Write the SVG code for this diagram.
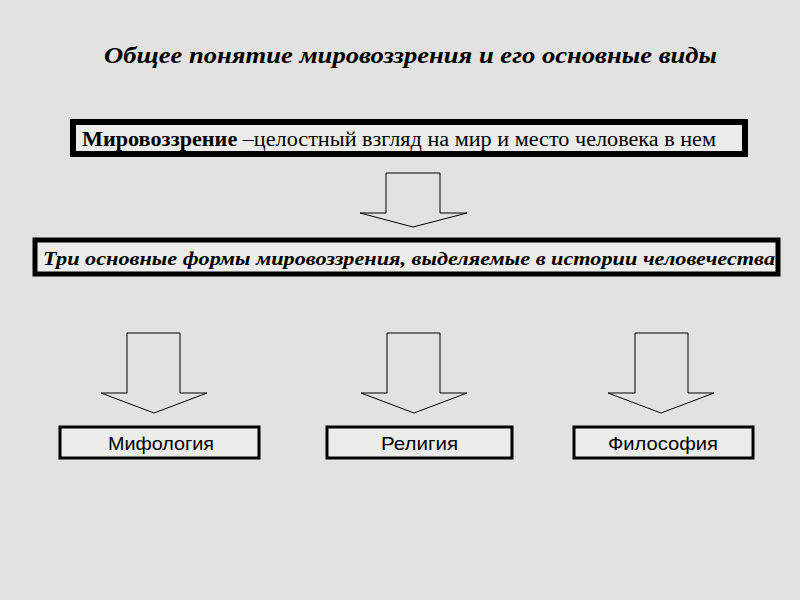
<svg xmlns="http://www.w3.org/2000/svg" width="800" height="600" viewBox="0 0 800 600">
<style>
.arrow{fill:none;stroke:#000;stroke-width:1}
.t{font-family:"Liberation Serif",serif;fill:#000}
.s{font-family:"Liberation Sans",sans-serif;font-size:19px;fill:#000}
</style>
<rect width="800" height="600" fill="#e2e2e0"/>
<text class="t" x="104" y="63" font-size="23" font-weight="bold" font-style="italic" textLength="613" lengthAdjust="spacingAndGlyphs">Общее понятие мировоззрения и его основные виды</text>
<g id="node-def">
<rect x="73" y="122" width="672" height="32" fill="#ececea" stroke="#000" stroke-width="6"/>
<text class="t" x="82" y="146" font-size="20" textLength="634" lengthAdjust="spacingAndGlyphs"><tspan font-weight="bold">Мировоззрение </tspan>–целостный взгляд на мир и место человека в нем</text>
</g>
<g id="node-forms">
<rect x="35" y="240" width="743" height="34" fill="#ececea" stroke="#000" stroke-width="5"/>
<text class="t" x="43" y="265" font-size="19" font-weight="bold" font-style="italic" textLength="732" lengthAdjust="spacingAndGlyphs">Три основные формы мировоззрения, выделяемые в истории человечества</text>
</g>
<g id="node-myth">
<rect x="60" y="427" width="199" height="31" fill="#ececea" stroke="#000" stroke-width="3"/>
<text class="s" x="108" y="450" textLength="106" lengthAdjust="spacingAndGlyphs">Мифология</text>
</g>
<g id="node-rel">
<rect x="327" y="427" width="185" height="31" fill="#ececea" stroke="#000" stroke-width="3"/>
<text class="s" x="381" y="450" textLength="77" lengthAdjust="spacingAndGlyphs">Религия</text>
</g>
<g id="node-phil">
<rect x="574" y="427" width="179" height="31" fill="#ececea" stroke="#000" stroke-width="3"/>
<text class="s" x="608" y="450" textLength="110" lengthAdjust="spacingAndGlyphs">Философия</text>
</g>
<g id="connectors">
<path class="arrow" d="M386,173 H440 V213 H467 L413,227 L360,213 H386 Z"/>
<path class="arrow" d="M127,333 H180 V393 H207 L154,413 L101,393 H127 Z"/>
<path class="arrow" d="M387,333 H440 V393 H467 L414,413 L361,393 H387 Z"/>
<path class="arrow" d="M635,333 H688 V393 H714 L661,413 L608,393 H635 Z"/>
</g>
</svg>
